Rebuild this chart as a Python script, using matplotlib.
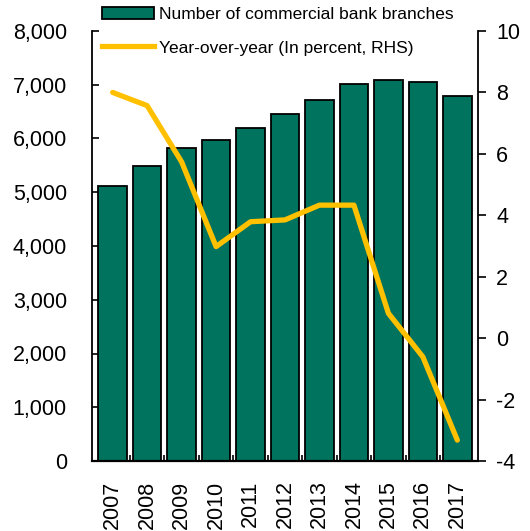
import matplotlib
matplotlib.use("Agg")
import matplotlib.pyplot as plt
from matplotlib.patches import Patch
from matplotlib.lines import Line2D

plt.rcParams['font.family'] = ['Liberation Sans', 'DejaVu Sans']

years = ["2007", "2008", "2009", "2010", "2011", "2012", "2013", "2014", "2015", "2016", "2017"]
branches = [5120, 5490, 5830, 5975, 6200, 6465, 6720, 7020, 7085, 7050, 6795]
yoy = [8.0, 7.57, 5.74, 2.98, 3.79, 3.85, 4.33, 4.33, 0.81, -0.61, -3.32]

bar_color = '#00735F'
line_color = '#FFC000'

fig = plt.figure(figsize=(5.30, 5.31), dpi=100)
ax = fig.add_axes([92/530, 70/531, (478-92)/530, 430/531])
x = list(range(len(years)))
ax.bar(x, branches, width=0.83, color=bar_color, edgecolor='black', linewidth=1.3, zorder=2)
ax.set_xlim(-0.6, len(years) - 0.4)
ax.set_ylim(0, 8000)
ax.set_yticks(range(0, 8001, 1000))
ax.set_yticklabels([f"{v:,}" for v in range(0, 8001, 1000)], fontsize=15.5)
ax.tick_params(axis='y', direction='in', length=5, width=1.2, pad=18)
ax.set_xticks(x)
ax.set_xticklabels(years, rotation=90, fontsize=15.5)
ax.tick_params(axis='x', length=0, pad=14)
ax.set_xticks([i + 0.5 for i in x[:-1]], minor=True)
ax.tick_params(axis='x', which='minor', direction='in', length=4, width=1.2)
ax.spines['top'].set_visible(False)
ax.spines['right'].set_visible(False)
ax.spines['left'].set_linewidth(1.3)
ax.spines['bottom'].set_linewidth(1.6)

ax2 = ax.twinx()
ax2.plot(x, yoy, color=line_color, linewidth=3.8, solid_capstyle='round', zorder=3)
ax2.set_ylim(-4, 10)
ax2.set_yticks(range(-4, 11, 2))
ax2.set_yticklabels([str(v) for v in range(-4, 11, 2)], fontsize=15.5)
ax2.tick_params(axis='y', direction='out', length=6, width=1.2, pad=7)
ax2.spines['top'].set_visible(False)
ax2.spines['left'].set_visible(False)
ax2.spines['bottom'].set_visible(False)
ax2.spines['right'].set_linewidth(1.3)

handles = [Patch(facecolor=bar_color, edgecolor='black', linewidth=1.3),
           Line2D([0], [0], color=line_color, linewidth=3.8)]
labels = ["Number of commercial bank branches", "Year-over-year (In percent, RHS)"]
fig.legend(handles, labels, loc='upper left', bbox_to_anchor=(102/530, 1 - 7/531), frameon=False,
           fontsize=12.5, handlelength=3.0, handletextpad=0.3, labelspacing=1.05,
           borderaxespad=0.0, borderpad=0.0)

fig.savefig("out.png", dpi=100)
